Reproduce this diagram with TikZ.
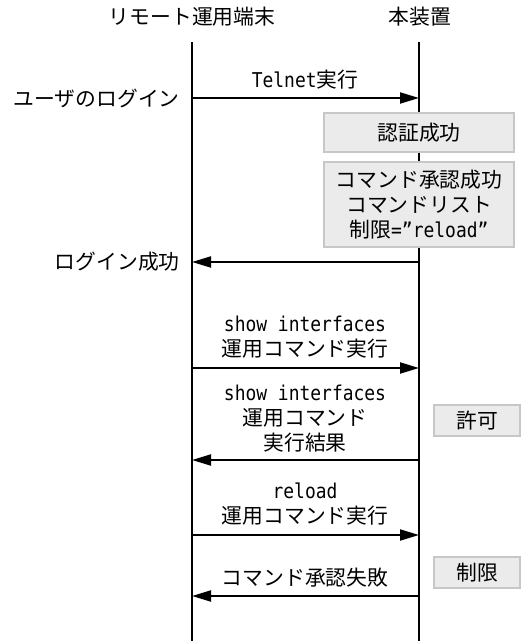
\documentclass[tikz,border=0pt]{standalone}
\usepackage{fontspec}
\setmainfont{Noto Sans CJK JP}
\newfontfamily\hanmono[FakeStretch=0.88]{DejaVu Sans Mono}
\usetikzlibrary{arrows.meta}

\begin{document}
\begin{tikzpicture}[x=0.5pt,y=-0.5pt,
  every node/.style={font=\fontsize{10.4}{12.5}\selectfont, inner sep=0pt},
  life/.style={line width=1pt},
  msg/.style={line width=1pt,-{Triangle[length=9.5pt,width=5.5pt]}},
  state/.style={draw=black!22,fill=black!8,line width=0.8pt,align=center}]
  \useasboundingbox (0,0) rectangle (521,641);
  % 見出しとライフライン
  \node (term) at (192,17) {リモート運用端末};
  \node (dev) at (420,17) {本装置};
  \coordinate (termTop) at (192,42);
  \coordinate (termEnd) at (192,641);
  \coordinate (devTop) at (419,42);
  \coordinate (devEnd) at (419,641);
  \draw[life] (termTop) -- (termEnd);
  \draw[life] (devTop) -- (devEnd);
  % ログイン
  \coordinate (t1) at (192,98);
  \coordinate (d1) at (419,98);
  \draw[msg] (t1) -- (d1);
  \node at (305,80) {{\hanmono\fontsize{10.2}{12.5}\selectfont Telnet}実行};
  \node[anchor=east] (login) at (180,98) {ユーザのログイン};
  % 認証・承認
  \node[state,minimum width=95pt,minimum height=19.5pt] (auth) at (419,132.5) {認証成功};
  \node[state,minimum width=95pt,minimum height=42.5pt] (cmdok) at (419,204.5)
    {コマンド承認成功\\コマンドリスト\\制限{\hanmono\fontsize{10.2}{12.5}\selectfont =”reload”}};
  \coordinate (d2) at (419,262);
  \coordinate (t2) at (192,262);
  \draw[msg] (d2) -- (t2);
  \node[anchor=east] (loginok) at (180,262) {ログイン成功};
  % show interfaces（許可）
  \coordinate (t3) at (192,368);
  \coordinate (d3) at (419,368);
  \draw[msg] (t3) -- (d3);
  \node[align=center] at (305,337.5)
    {{\hanmono\fontsize{10.2}{12.5}\selectfont show interfaces}\\運用コマンド実行};
  \coordinate (d4) at (419,460);
  \coordinate (t4) at (192,460);
  \draw[msg] (d4) -- (t4);
  \node[align=center] at (305,418.5)
    {{\hanmono\fontsize{10.2}{12.5}\selectfont show interfaces}\\運用コマンド\\実行結果};
  \node[state,minimum width=43pt,minimum height=15.5pt] (allow) at (477,420.5) {許可};
  % reload（制限）
  \coordinate (t5) at (192,535);
  \coordinate (d5) at (419,535);
  \draw[msg] (t5) -- (d5);
  \node[align=center] at (305,504.5)
    {{\hanmono\fontsize{10.2}{12.5}\selectfont reload}\\運用コマンド実行};
  \coordinate (d6) at (419,596);
  \coordinate (t6) at (192,596);
  \draw[msg] (d6) -- (t6);
  \node at (305,578) {コマンド承認失敗};
  \node[state,minimum width=43pt,minimum height=15.5pt] (deny) at (477,572.5) {制限};
\end{tikzpicture}
\end{document}
